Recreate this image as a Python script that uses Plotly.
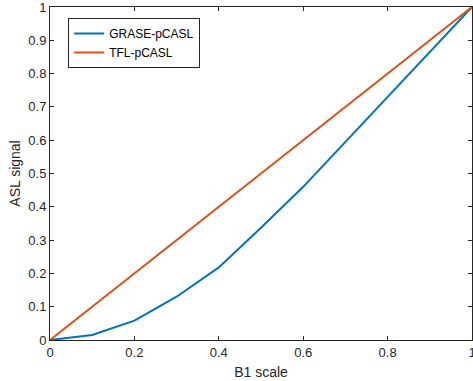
import plotly.graph_objects as go

b1_scale = [0, 0.1, 0.2, 0.3, 0.4, 0.5, 0.6, 0.7, 0.8, 0.9, 1.0]
grase_pcasl = [0, 0.015, 0.058, 0.13, 0.218, 0.337, 0.46, 0.595, 0.73, 0.865, 1.0]
tfl_pcasl = [0, 0.1, 0.2, 0.3, 0.4, 0.5, 0.6, 0.7, 0.8, 0.9, 1.0]

x_ticks = [0, 0.2, 0.4, 0.6, 0.8, 1]
x_tick_labels = ["0", "0.2", "0.4", "0.6", "0.8", "1"]
y_ticks = [0, 0.1, 0.2, 0.3, 0.4, 0.5, 0.6, 0.7, 0.8, 0.9, 1]
y_tick_labels = ["0", "0.1", "0.2", "0.3", "0.4", "0.5", "0.6", "0.7", "0.8", "0.9", "1"]

font_family = "Liberation Sans, Arial, sans-serif"
axis_color = "#262626"

fig = go.Figure()
fig.add_trace(go.Scatter(x=b1_scale, y=grase_pcasl, mode="lines", name="GRASE-pCASL",
                         line=dict(color="#0072BD", width=2)))
fig.add_trace(go.Scatter(x=b1_scale, y=tfl_pcasl, mode="lines", name="TFL-pCASL",
                         line=dict(color="#D95319", width=2)))

axis_common = dict(
    showline=True, linecolor=axis_color, linewidth=1, mirror="ticks",
    ticks="inside", ticklen=4, tickcolor=axis_color, tickwidth=1,
    showgrid=False, zeroline=False, automargin=False,
    ticklabeloverflow="allow",
    tickfont=dict(family=font_family, size=13, color=axis_color),
)

fig.update_layout(
    width=473, height=381,
    margin=dict(l=50, r=1, t=7, b=41),
    paper_bgcolor="white", plot_bgcolor="white",
    font=dict(family=font_family, color=axis_color),
    xaxis=dict(range=[0, 1], tickvals=x_ticks, ticktext=x_tick_labels,
               title=dict(text="B1 scale", font=dict(family=font_family, size=14, color=axis_color), standoff=8),
               **axis_common),
    yaxis=dict(range=[0, 1], tickvals=y_ticks, ticktext=y_tick_labels,
               title=dict(text="ASL signal", font=dict(family=font_family, size=14, color=axis_color), standoff=4),
               **axis_common),
    legend=dict(x=0.043, y=0.967, xanchor="left", yanchor="top",
                bgcolor="white", bordercolor=axis_color, borderwidth=1,
                font=dict(family=font_family, size=12, color="black"),
                tracegroupgap=0, itemwidth=30),
    showlegend=True,
)

fig.write_html(
    "out.html",
    config={"displayModeBar": False},
    post_script=(
        "document.documentElement.style.margin='0';"
        "document.documentElement.style.overflow='hidden';"
        "document.body.style.margin='0';"
        "document.body.style.padding='0';"
        "document.body.style.overflow='hidden';"
    ),
)
